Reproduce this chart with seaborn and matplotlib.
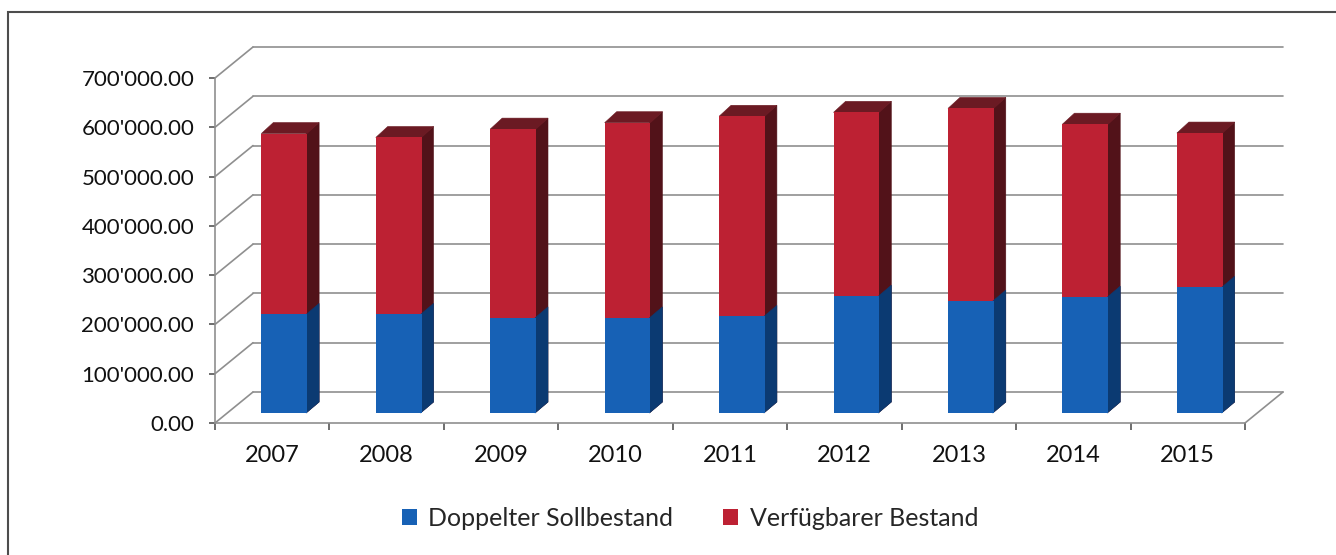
import numpy as np
import pandas as pd
import matplotlib
matplotlib.use("Agg")
import matplotlib.pyplot as plt
import seaborn as sns
from matplotlib.patches import Polygon, Rectangle, Patch
from matplotlib.transforms import ScaledTranslation

years = ["2007", "2008", "2009", "2010", "2011", "2012", "2013", "2014", "2015"]
doppelter_soll = [200000, 200000, 193000, 193000, 196000, 237000, 227000, 235000, 255000]
verfuegbar = [367000, 359000, 383000, 396000, 406000, 373000, 391000, 351000, 313000]
y_ticks = np.arange(0, 700001, 100000)

RED = "#bd2133"
RED_SIDE = "#521219"
RED_TOP = "#6b1a23"
BLUE = "#1761b5"
BLUE_SIDE = "#0b3a72"
GRID = "#8f8f8f"
TICK = "#555555"

sns.set_theme(style="white")
plt.rcParams["font.family"] = ["Lato", "DejaVu Sans"]

df = pd.DataFrame({"Jahr": years,
                   "Doppelter Sollbestand": doppelter_soll,
                   "Verfügbarer Bestand": verfuegbar})
df["Total"] = df["Doppelter Sollbestand"] + df["Verfügbarer Bestand"]

W, H = 1336, 555
fig = plt.figure(figsize=(W / 100, H / 100), dpi=100)
ax = fig.add_axes([215 / W, 1 - 423 / H, (1245 - 215) / W, (423 - 78) / H])

# pixel sizes in data units (front plane of the axes)
px_x = 9 / (1245 - 215)
px_y = 700000 / (423 - 78)
wall = (38 * px_x, 31 * px_y)     # depth of the back wall
depth = (12 * px_x, 11 * px_y)    # depth of one bar
shift = ScaledTranslation(12 / 100, 10 / 100, fig.dpi_scale_trans)

sns.barplot(data=df, x="Jahr", y="Total", color=RED, saturation=1,
            width=0.4, edgecolor="none", ax=ax)
sns.barplot(data=df, x="Jahr", y="Doppelter Sollbestand", color=BLUE,
            saturation=1, width=0.4, edgecolor="none", ax=ax)
ax.set_xlim(-0.5, 8.5)
ax.set_ylim(0, 700000)

n = len(years)
for i, p in enumerate(ax.patches):
    red = i < n
    p.set_transform(ax.transData + shift)
    p.set_clip_on(False)
    p.set_zorder(2 if red else 3)
    x0, w, y0, h = p.get_x(), p.get_width(), p.get_y(), p.get_height()
    dx, dy = depth
    xs = x0 + w - px_x  # slight overlap with the front face
    side = [(xs, y0), (x0 + w + dx, y0 + dy),
            (x0 + w + dx, y0 + h + dy), (xs, y0 + h)]
    sc = RED_SIDE if red else BLUE_SIDE
    ax.add_patch(Polygon(side, closed=True, facecolor=sc, edgecolor=sc, lw=0.4,
                         transform=ax.transData + shift,
                         clip_on=False, zorder=1.9 if red else 2.9))
    if red:
        top = [(x0, y0 + h), (x0 + dx, y0 + h + dy),
               (x0 + w + dx, y0 + h + dy), (x0 + w, y0 + h)]
        ax.add_patch(Polygon(top, closed=True, facecolor=RED_TOP, edgecolor=RED_TOP,
                             lw=0.4, transform=ax.transData + shift,
                             clip_on=False, zorder=1.95))

# back wall, side wall and floor lines
for t in y_ticks:
    ax.plot([-0.5 + wall[0], 8.5 + wall[0]], [t + wall[1]] * 2,
            color=GRID, lw=1.2, clip_on=False, zorder=0)
    ax.plot([-0.5, -0.5 + wall[0]], [t, t + wall[1]],
            color=GRID, lw=1.2, clip_on=False, zorder=0)
ax.plot([8.5, 8.5 + wall[0]], [0, wall[1]], color=GRID, lw=1.2, clip_on=False, zorder=0)

for s in ["top", "right"]:
    ax.spines[s].set_visible(False)
for s in ["left", "bottom"]:
    ax.spines[s].set_color(GRID)
    ax.spines[s].set_linewidth(1.2)

ax.set_xlabel("")
ax.set_ylabel("")
ax.set_yticks(y_ticks)
ax.set_yticklabels([f"{v:,.2f}".replace(",", "'") for v in y_ticks])
ax.set_xticks(range(n))
ax.set_xticklabels(years)
ax.set_xticks(np.arange(-0.5, n), minor=True)
ax.tick_params(axis="y", which="major", direction="out", length=4, width=1.2,
               color=TICK, pad=11, labelsize=16, labelcolor="#111111", left=True)
ax.tick_params(axis="x", which="major", length=0, pad=16, labelsize=17,
               labelcolor="#111111")
ax.tick_params(axis="x", which="minor", direction="out", length=5, width=1.2,
               color=TICK, bottom=True)
ax.grid(False)
ax.set_facecolor("none")

handles = [Patch(facecolor=BLUE, edgecolor="none"), Patch(facecolor=RED, edgecolor="none")]
fig.legend(handles, ["Doppelter Sollbestand", "Verfügbarer Bestand"],
           loc="center", bbox_to_anchor=(690 / W, 1 - 518 / H), ncol=2,
           frameon=False, fontsize=18, handlelength=0.6, handleheight=0.6,
           handletextpad=0.45, columnspacing=2.0)

fig.add_artist(Rectangle((8 / W, -0.05), 1.1, 1 - 12 / H + 0.05,
                         transform=fig.transFigure, fill=False,
                         edgecolor="#4d4d4d", lw=1.5))

fig.savefig("out.png", dpi=100)
